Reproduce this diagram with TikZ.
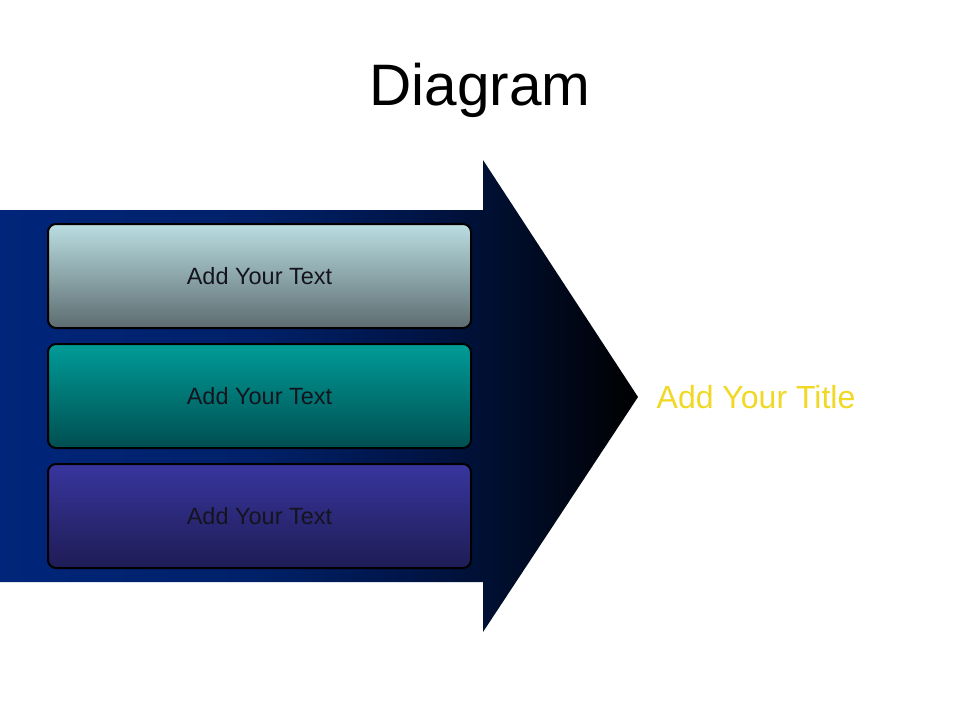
\documentclass[tikz,border=0pt]{standalone}
\usepackage{fontspec}
\setmainfont{Liberation Sans}
\definecolor{arA}{RGB}{0,37,122}
\definecolor{arB}{RGB}{0,33,105}
\definecolor{arC}{RGB}{0,22,75}
\definecolor{arD}{RGB}{0,16,52}
\definecolor{b1t}{RGB}{186,222,226}
\definecolor{b1b}{RGB}{92,108,112}
\definecolor{b2t}{RGB}{0,156,152}
\definecolor{b2b}{RGB}{0,78,80}
\definecolor{b3t}{RGB}{56,54,158}
\definecolor{b3b}{RGB}{30,28,84}
\definecolor{ttl}{RGB}{240,216,36}
\definecolor{btxt}{RGB}{20,20,30}
\pgfdeclarehorizontalshading{arrowshade}{100bp}{color(0bp)=(arA); color(25bp)=(arA); color(44.6bp)=(arB); color(56.3bp)=(arC); color(62.9bp)=(arD); color(75bp)=(black); color(100bp)=(black)}
\tikzset{
  txtbox/.style={draw=black, line width=2pt, rounded corners=8pt, minimum width=423pt, minimum height=104pt, inner sep=0pt, font=\fontsize{23.5}{28}\selectfont, text=btxt},
}
\begin{document}
\begin{tikzpicture}[x=1pt,y=-1pt]
\useasboundingbox (0,0) rectangle (960,720);
\node[font=\fontsize{58.5}{66}\selectfont] (title) at (480,90) {Diagram};
\shade[shading=arrowshade] (0,210) -- (483,210) -- (483,160) -- (638,397) -- (483,632) -- (483,582) -- (0,582) -- cycle;
\node[txtbox, top color=b1t, bottom color=b1b] (box1) at (259.5,276) {Add Your Text};
\node[txtbox, top color=b2t, bottom color=b2b] (box2) at (259.5,396) {Add Your Text};
\node[txtbox, top color=b3t, bottom color=b3b] (box3) at (259.5,516) {Add Your Text};
\node[font=\fontsize{32}{36}\selectfont, text=ttl] (head) at (756,397) {Add Your Title};
\end{tikzpicture}
\end{document}
